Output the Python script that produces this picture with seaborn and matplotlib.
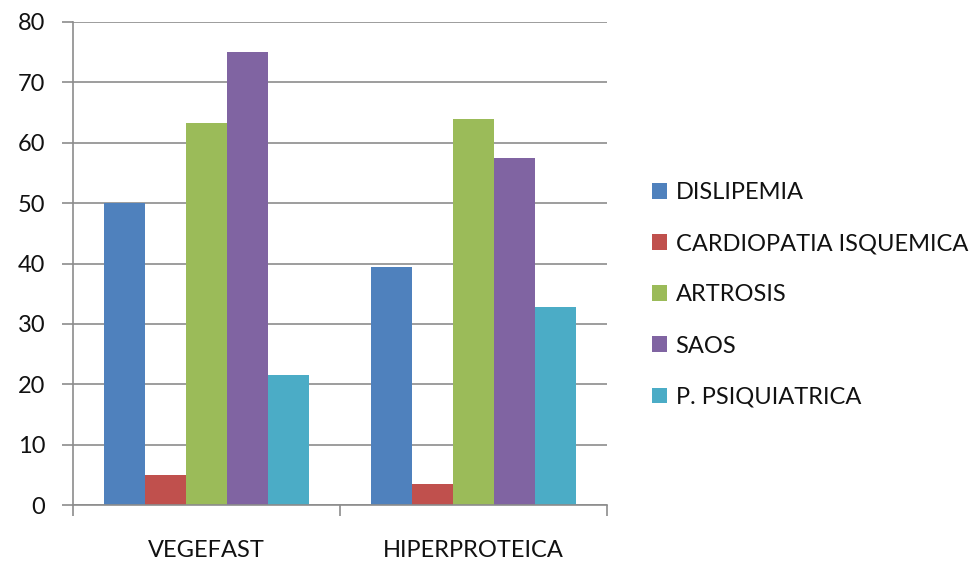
import matplotlib
matplotlib.use("Agg")
import matplotlib.pyplot as plt
import seaborn as sns
import pandas as pd
from matplotlib.ticker import FixedLocator

# Datos
grupos = ["VEGEFAST", "HIPERPROTEICA"]
patologias = ["DISLIPEMIA", "CARDIOPATIA ISQUEMICA", "ARTROSIS", "SAOS", "P. PSIQUIATRICA"]
vegefast = [50.0, 4.9, 63.3, 75.1, 21.6]
hiperproteica = [39.4, 3.4, 64.0, 57.4, 32.8]
colores = ["#4F81BD", "#C0504D", "#9BBB59", "#8064A2", "#4BACC6"]
yticks = [0, 10, 20, 30, 40, 50, 60, 70, 80]

filas = []
for g, vals in zip(grupos, [vegefast, hiperproteica]):
    for p, v in zip(patologias, vals):
        filas.append({"grupo": g, "patologia": p, "valor": v})
df = pd.DataFrame(filas)

sns.set_theme(style="white")
plt.rcParams["font.family"] = ["Lato", "DejaVu Sans"]

fig = plt.figure(figsize=(9.71, 5.62), dpi=100)
ax = fig.add_axes([73 / 971, 57 / 562, 534 / 971, 483 / 562])

sns.barplot(data=df, x="grupo", y="valor", hue="patologia", order=grupos,
            hue_order=patologias, palette=colores, saturation=1, width=0.765,
            linewidth=0, ax=ax)

gris = "#8c8c8c"
texto = "#111111"
ax.set_xlim(-0.5, 1.5)
ax.set_ylim(0, 80)
ax.set_yticks(yticks)
ax.yaxis.grid(True, color=gris, linewidth=1.2)
ax.set_axisbelow(True)
ax.set_xlabel("")
ax.set_ylabel("")

for s in ["top", "right"]:
    ax.spines[s].set_visible(False)
for s in ["left", "bottom"]:
    ax.spines[s].set_color(gris)
    ax.spines[s].set_linewidth(1.2)

ax.tick_params(axis="y", length=8, width=1.2, color=gris, pad=12,
               labelsize=17, labelcolor=texto, left=True)
ax.tick_params(axis="x", which="major", length=0, pad=25, labelsize=17,
               labelcolor=texto)
ax.xaxis.set_minor_locator(FixedLocator([-0.5, 0.5, 1.5]))
ax.tick_params(axis="x", which="minor", length=8, width=1.2, color=gris,
               bottom=True)

leg = ax.get_legend()
handles, labels = ax.get_legend_handles_labels()
leg.remove()
fig.legend(handles, labels, loc="upper left",
           bbox_to_anchor=(652 / 971, 1 - 182 / 562),
           frameon=False, fontsize=17, handlelength=0.65, handleheight=0.65,
           handletextpad=0.35, labelspacing=1.28, borderpad=0,
           borderaxespad=0, labelcolor=texto)

fig.savefig("out.png", dpi=100)
